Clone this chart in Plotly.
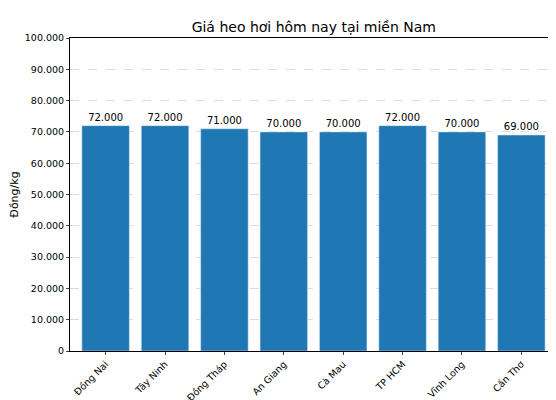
import plotly.graph_objects as go

provinces = ["Đồng Nai", "Tây Ninh", "Đồng Tháp", "An Giang", "Cà Mau", "TP HCM", "Vĩnh Long", "Cần Thơ"]
prices = [72000, 72000, 71000, 70000, 70000, 72000, 70000, 69000]

def vn(n):
    return f"{n:,}".replace(",", ".")

tick_vals = list(range(0, 100001, 10000))

fig = go.Figure(go.Bar(
    x=provinces, y=prices, width=0.8,
    marker=dict(color="#1f77b4"),
    text=[vn(p) for p in prices], textposition="outside", cliponaxis=False,
    textfont=dict(size=10, color="black"),
))
fig.update_layout(
    width=556, height=400,
    title=dict(text="Giá heo hơi hôm nay tại miền Nam", x=0.55, xanchor="center", y=0.965,
               font=dict(size=14, color="black")),
    font=dict(family="DejaVu Sans", size=9.5, color="black"),
    plot_bgcolor="white", paper_bgcolor="white",
    margin=dict(l=62, r=7, t=30, b=57, autoexpand=False),
    bargap=0.2, showlegend=False,
)
fig.update_xaxes(showline=True, linecolor="black", mirror=True, ticks="outside", automargin=False,
                 tickangle=-45, ticklen=3, range=[-0.6, 7.6])
fig.update_yaxes(range=[0, 100000], tickvals=tick_vals, ticktext=[vn(v) for v in tick_vals],
                 showline=True, linecolor="black", mirror=True, ticks="outside", ticklen=3,
                 automargin=False,
                 showgrid=True, gridcolor="#dddddd", griddash="dash", zeroline=False,
                 title=dict(text="Đồng/kg", font=dict(size=11), standoff=8))
fig.write_html("out.html")
